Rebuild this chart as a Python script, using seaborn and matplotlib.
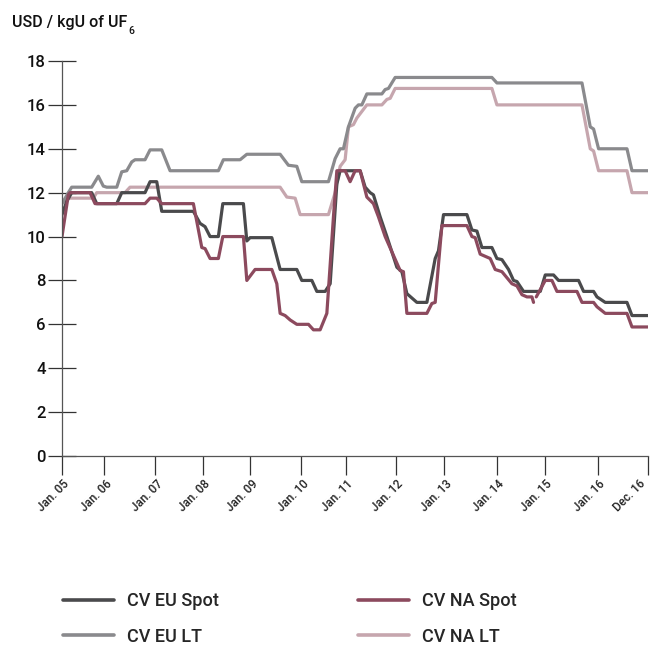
import pandas as pd
import numpy as np
import seaborn as sns
import matplotlib.pyplot as plt
from matplotlib.transforms import ScaledTranslation

# Conversion prices, USD / kgU of UF6 (vertices, x = months since Jan. 05)
eu_spot_month = [0.0, 1.15, 2.37, 7.25, 8.47, 13.36, 14.58, 20.26, 21.49, 23.12, 24.34, 32.06, 33.69,
                 34.91, 36.13, 38.16, 39.24, 44.27, 45.10, 45.90, 51.20, 53.23, 57.30, 58.52, 60.97,
                 62.19, 64.21, 65.44, 67.07, 67.87, 72.76, 73.98, 75.20, 76.00, 77.64, 79.28, 81.72,
                 82.94, 84.16, 86.60, 89.04, 91.07, 91.87, 93.10, 98.81, 100.03, 101.25, 102.47,
                 104.91, 106.13, 107.35, 108.97, 110.19, 111.02, 112.63, 116.71, 117.93, 119.95,
                 121.17, 126.06, 127.28, 129.72, 130.55, 132.57, 137.87, 139.09, 143.0]
eu_spot_price = [11.0, 11.6, 12.0, 12.0, 11.5, 11.5, 12.0, 12.0, 12.5, 12.5, 11.15, 11.15, 10.6,
                 10.45, 10.0, 10.0, 11.5, 11.5, 9.8, 9.95, 9.95, 8.5, 8.5, 8.0, 8.0,
                 7.5, 7.5, 7.85, 12.4, 13.0, 13.0, 12.25, 12.0, 11.9, 10.9, 10.0, 8.6,
                 8.4, 7.4, 7.0, 7.0, 9.0, 9.35, 11.0, 11.0, 10.3, 10.25, 9.5,
                 9.5, 9.0, 8.95, 8.5, 8.0, 7.95, 7.5, 7.5, 8.25, 8.25,
                 8.0, 8.0, 7.5, 7.5, 7.25, 7.0, 7.0, 6.4, 6.4]

na_spot_month = [0.0, 1.54, 1.95, 6.84, 8.06, 20.26, 21.49, 23.12, 24.34, 32.06, 34.11, 34.91,
                 36.13, 38.16, 39.24, 44.27, 45.10, 47.12, 51.20, 52.42, 53.23, 54.45, 55.67,
                 57.30, 60.14, 61.36, 62.99, 64.63, 66.24, 67.07, 69.09, 70.31, 71.54, 72.76,
                 74.39, 76.00, 77.22, 78.86, 82.52, 83.32, 84.16, 89.04, 90.26, 91.07, 92.70,
                 98.81, 100.03, 100.83, 102.05, 104.49, 105.71, 107.35, 109.79, 111.02, 112.24,
                 113.46, 114.68, 115.07,
                 115.73, 117.93, 119.56, 120.78, 125.67, 126.89, 129.72, 130.55, 132.57, 137.87,
                 139.09, 143.0]
na_spot_price = [10.0, 11.9, 12.0, 12.0, 11.5, 11.5, 11.75, 11.75, 11.5, 11.5, 9.5, 9.45,
                 9.0, 9.0, 10.0, 10.0, 8.0, 8.5, 8.5, 7.85, 6.5, 6.4, 6.2,
                 6.0, 6.0, 5.75, 5.75, 6.5, 10.9, 13.0, 13.0, 12.5, 13.0, 13.0,
                 11.8, 11.5, 10.9, 10.0, 8.45, 8.4, 6.5, 6.5, 6.95, 7.0, 10.5,
                 10.5, 10.0, 9.95, 9.2, 9.0, 8.5, 8.4, 7.85, 7.75, 7.35,
                 7.25, 7.25, 7.0,
                 7.25, 8.0, 8.0, 7.5, 7.5, 7.0, 7.0, 6.8, 6.5, 6.5,
                 5.88, 5.88]
# the NA spot line has a short break early in 2015
na_spot_part = [0] * 58 + [1] * 12

eu_lt_month = [0.0, 1.54, 2.37, 7.25, 8.86, 10.08, 10.91, 13.36, 14.58, 15.80, 17.02, 17.82,
               20.26, 21.49, 24.34, 26.37, 38.16, 39.38, 43.46, 45.10, 53.23, 55.25, 57.30,
               58.52, 65.02, 66.65, 67.87, 68.68, 69.90, 71.54, 72.34, 73.17, 74.39, 78.06,
               78.86, 79.67, 81.30, 104.91, 106.13, 126.89, 128.91, 129.72, 130.94, 137.87,
               139.09, 143.0]
eu_lt_price = [11.5, 12.0, 12.25, 12.25, 12.75, 12.3, 12.25, 12.25, 12.95, 13.0, 13.4, 13.5,
               13.5, 13.95, 13.95, 13.0, 13.0, 13.5, 13.5, 13.75, 13.75, 13.25, 13.2,
               12.5, 12.5, 13.55, 14.0, 14.0, 15.0, 15.85, 16.0, 16.0, 16.5, 16.5,
               16.7, 16.75, 17.25, 17.25, 17.0, 17.0, 15.0, 14.9, 14.0, 14.0,
               13.0, 13.0]

na_lt_month = [0.0, 1.15, 7.64, 8.47, 15.38, 16.60, 53.23, 54.86, 56.89, 58.11, 65.02, 66.65,
               67.87, 69.09, 69.90, 71.12, 71.95, 74.39, 78.06, 79.28, 80.09, 81.30, 104.91,
               106.13, 126.89, 128.91, 129.72, 130.94, 137.87, 139.09, 143.0]
na_lt_price = [11.5, 11.75, 11.75, 12.0, 12.0, 12.25, 12.25, 11.8, 11.75, 11.0, 11.0, 12.0,
               13.2, 13.5, 15.0, 15.1, 15.4, 16.0, 16.0, 16.25, 16.3, 16.75, 16.75,
               16.0, 16.0, 14.0, 13.9, 13.0, 13.0, 12.0, 12.0]

tick_labels = ['Jan. 05', 'Jan. 06', 'Jan. 07', 'Jan. 08', 'Jan. 09', 'Jan. 10', 'Jan. 11',
               'Jan. 12', 'Jan. 13', 'Jan. 14', 'Jan. 15', 'Jan. 16', 'Dec. 16']
# ticks in the original are not evenly spaced
tick_pos = [0, 10.33, 22.71, 34.35, 45.97, 58.35, 69.27, 81.47, 93.34, 106.13, 117.85, 130.69, 143]

series_names = ['CV EU Spot', 'CV EU LT', 'CV NA Spot', 'CV NA LT']
colors = {'CV EU Spot': '#4a4a4c', 'CV EU LT': '#8a8a8d',
          'CV NA Spot': '#8c4a5e', 'CV NA LT': '#c6a6ae'}

frames = [
    pd.DataFrame({'month': eu_spot_month, 'price': eu_spot_price, 'series': 'CV EU Spot', 'part': 0}),
    pd.DataFrame({'month': eu_lt_month, 'price': eu_lt_price, 'series': 'CV EU LT', 'part': 0}),
    pd.DataFrame({'month': na_spot_month, 'price': na_spot_price, 'series': 'CV NA Spot', 'part': na_spot_part}),
    pd.DataFrame({'month': na_lt_month, 'price': na_lt_price, 'series': 'CV NA LT', 'part': 0}),
]
df = pd.concat(frames, ignore_index=True)

sns.set_theme(style='white')
plt.rcParams['font.family'] = ['Roboto', 'DejaVu Sans']
plt.rcParams['font.weight'] = 'medium'

fig = plt.figure(figsize=(6.5, 6.46), dpi=100)
ax = fig.add_axes([62 / 650, 1 - 456 / 646, 586 / 650, 395 / 646])

# draw light lines first so the spot prices sit on top
draw_order = ['CV NA LT', 'CV EU LT', 'CV EU Spot', 'CV NA Spot']
sns.lineplot(data=df, x='month', y='price', hue='series', units='part', estimator=None,
             sort=False, hue_order=draw_order, palette=colors, linewidth=2.3, ax=ax)

handles, labels = ax.get_legend_handles_labels()
ax.get_legend().remove()
lookup = dict(zip(labels, handles))

ax.set_xlim(0, 143)
ax.set_ylim(0, 18)
ax.set_yticks(range(0, 19, 2))
ax.set_xticks(tick_pos)
ax.set_xticklabels(tick_labels, rotation=45, ha='right', va='center', rotation_mode='anchor')
ax.set_xlabel('')
ax.set_ylabel('')

sns.despine(ax=ax)
for side in ['left', 'bottom']:
    ax.spines[side].set_color('#555555')
    ax.spines[side].set_linewidth(0.9)

ax.tick_params(axis='y', left=True, direction='inout', length=20.5, width=0.9, color='#333333',
               labelsize=12, pad=1.5, labelcolor='#111111')
ax.tick_params(axis='x', bottom=True, direction='out', length=13.5, width=0.9, color='#333333',
               labelsize=8.5, pad=5, labelcolor='#222222')
ax.grid(False)

# nudge the tick labels a bit to the right, the last one back inside the figure
shift = ScaledTranslation(4 / 72, 0, fig.dpi_scale_trans)
for lab in ax.get_xticklabels():
    lab.set_transform(lab.get_transform() + shift)
last = ax.get_xticklabels()[-1]
last.set_transform(last.get_transform() + ScaledTranslation(-7 / 72, 0, fig.dpi_scale_trans))

t = fig.text(12 / 650, 1 - 22 / 646, 'USD / kgU of UF', fontsize=11.5, va='center', color='#111111')
ax.annotate('6', xy=(1, 0), xycoords=t, xytext=(0.5, -1), textcoords='offset points',
            fontsize=7.5, va='center', ha='left', color='#111111')

leg = fig.legend([lookup[n] for n in series_names], series_names, ncol=2, loc='upper left',
                 bbox_to_anchor=(63 / 650, 1 - 592 / 646), frameon=False, fontsize=13,
                 handlelength=2.8, handletextpad=0.75, columnspacing=7.7, labelspacing=0.98,
                 borderpad=0, borderaxespad=0)
for line in leg.get_lines():
    line.set_linewidth(2.6)

fig.savefig('out.png', dpi=100)
